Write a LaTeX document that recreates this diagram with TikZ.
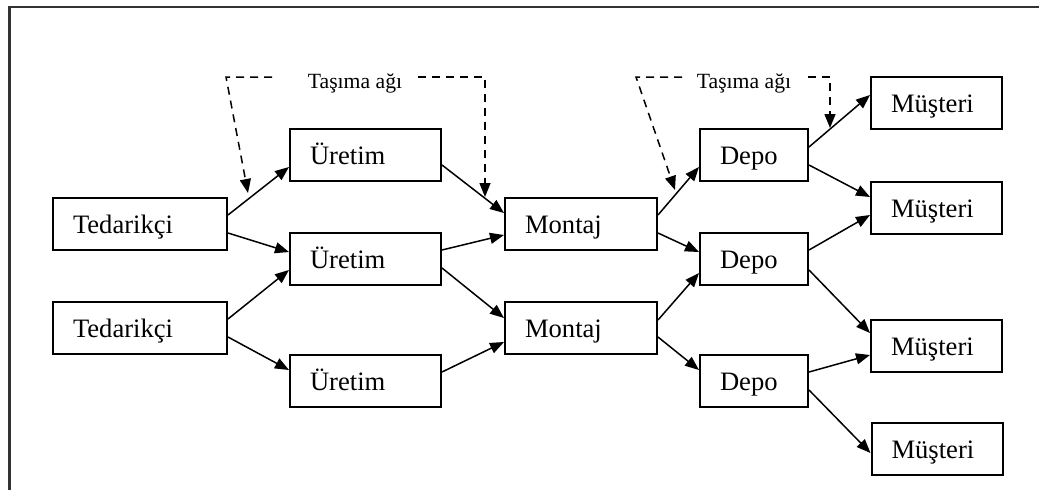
\documentclass[tikz,border=0pt]{standalone}
\usepackage{fontspec}
\setmainfont{Liberation Serif}
\usetikzlibrary{arrows.meta,calc}
\begin{document}
\begin{tikzpicture}[x=1pt,y=-1pt,
  box/.style={draw, line width=2pt, minimum height=52pt, inner xsep=20pt, inner ysep=0pt,
    text height=18pt, text depth=0pt, align=left, font=\fontsize{26.6}{30}\selectfont},
  supplier/.style={box, text width=134pt},
  plant/.style={box, text width=111pt},
  assembly/.style={box, text width=112pt},
  depot/.style={box, text width=68pt},
  customer/.style={box, text width=91pt},
  netlabel/.style={inner sep=0pt, anchor=base, font=\fontsize{21.7}{24}\selectfont},
  flow/.style={line width=1.5pt, -{Triangle[length=14pt,width=11pt]}},
  net/.style={line width=1.5pt, dash pattern=on 8pt off 6pt, -{Triangle[length=14pt,width=11pt]}},
]
\useasboundingbox (0,0) rectangle (1039,490);
% page frame
\draw[line width=2.5pt, black!80] (9.5,490) -- (9.5,7) -- (1039,7);

% nodes
\node[supplier] (T1) at (140,224) {Tedarikçi};
\node[supplier] (T2) at (140,328) {Tedarikçi};
\node[plant] (U1) at (365.5,155) {Üretim};
\node[plant] (U2) at (365.5,259) {Üretim};
\node[plant] (U3) at (365.5,381) {Üretim};
\node[assembly] (M1) at (581,224) {Montaj};
\node[assembly] (M2) at (581,328) {Montaj};
\node[depot] (D1) at (754,155) {Depo};
\node[depot] (D2) at (754,259) {Depo};
\node[depot] (D3) at (754,381) {Depo};
\node[customer] (C1) at (936.5,103) {Müşteri};
\node[customer] (C2) at (936.5,208) {Müşteri};
\node[customer] (C3) at (936.5,346) {Müşteri};
\node[customer] (C4) at (937,449) {Müşteri};

% supplier -> production
\draw[flow] ([yshift=9pt]T1.east) -- ([yshift=-12pt]U1.west);
\draw[flow] ([yshift=-9pt]T1.east) -- ([yshift=7pt]U2.west);
\draw[flow] ([yshift=9pt]T2.east) -- ([yshift=-11pt]U2.west);
\draw[flow] ([yshift=-9pt]T2.east) -- ([yshift=11pt]U3.west);
% production -> assembly
\draw[flow] ([yshift=-10pt]U1.east) -- ([yshift=11pt]M1.west);
\draw[flow] ([yshift=9pt]U2.east) -- ([yshift=-11pt]M1.west);
\draw[flow] ([yshift=-9pt]U2.east) -- ([yshift=10pt]M2.west);
\draw[flow] ([yshift=9pt]U3.east) -- ([yshift=-14pt]M2.west);
% assembly -> depot
\draw[flow] ([yshift=9pt]M1.east) -- ([yshift=-12pt]D1.west);
\draw[flow] ([yshift=-9pt]M1.east) -- ([yshift=7pt]D2.west);
\draw[flow] ([yshift=8pt]M2.east) -- ([yshift=-14pt]D2.west);
\draw[flow] ([yshift=-9pt]M2.east) -- ([yshift=11pt]D3.west);
% depot -> customer
\draw[flow] ([yshift=8pt]D1.east) -- ([yshift=8pt]C1.west);
\draw[flow] ([yshift=-10pt]D1.east) -- ([yshift=11pt]C2.west);
\draw[flow] ([yshift=9pt]D2.east) -- ([yshift=-7pt]C2.west);
\draw[flow] ([yshift=-11pt]D2.east) -- ([yshift=13pt]C3.west);
\draw[flow] ([yshift=9pt]D3.east) -- ([yshift=-9pt]C3.west);
\draw[flow] ([yshift=-9pt]D3.east) -- ([yshift=-4pt]C4.west);

% transport networks
\node[netlabel] (N1) at (355,88) {Taşıma ağı};
\node[netlabel] (N2) at (744,88) {Taşıma ağı};
\coordinate (n1l) at (272,77);
\coordinate (c1l) at (226,77);
\coordinate (t1) at (248,193);
\coordinate (n1r) at (418,77);
\coordinate (c1r) at (485,77);
\coordinate (t2) at (485,197);
\coordinate (n2l) at (682,77);
\coordinate (c2l) at (636,77);
\coordinate (t3) at (675,190);
\coordinate (n2r) at (808,77);
\coordinate (c2r) at (830,77);
\coordinate (t4) at (830,128);
\draw[net] (n1l) -- (c1l) -- (t1);
\draw[net] (n1r) -- (c1r) -- (t2);
\draw[net] (n2l) -- (c2l) -- (t3);
\draw[net] (n2r) -- (c2r) -- (t4);
\end{tikzpicture}
\end{document}
